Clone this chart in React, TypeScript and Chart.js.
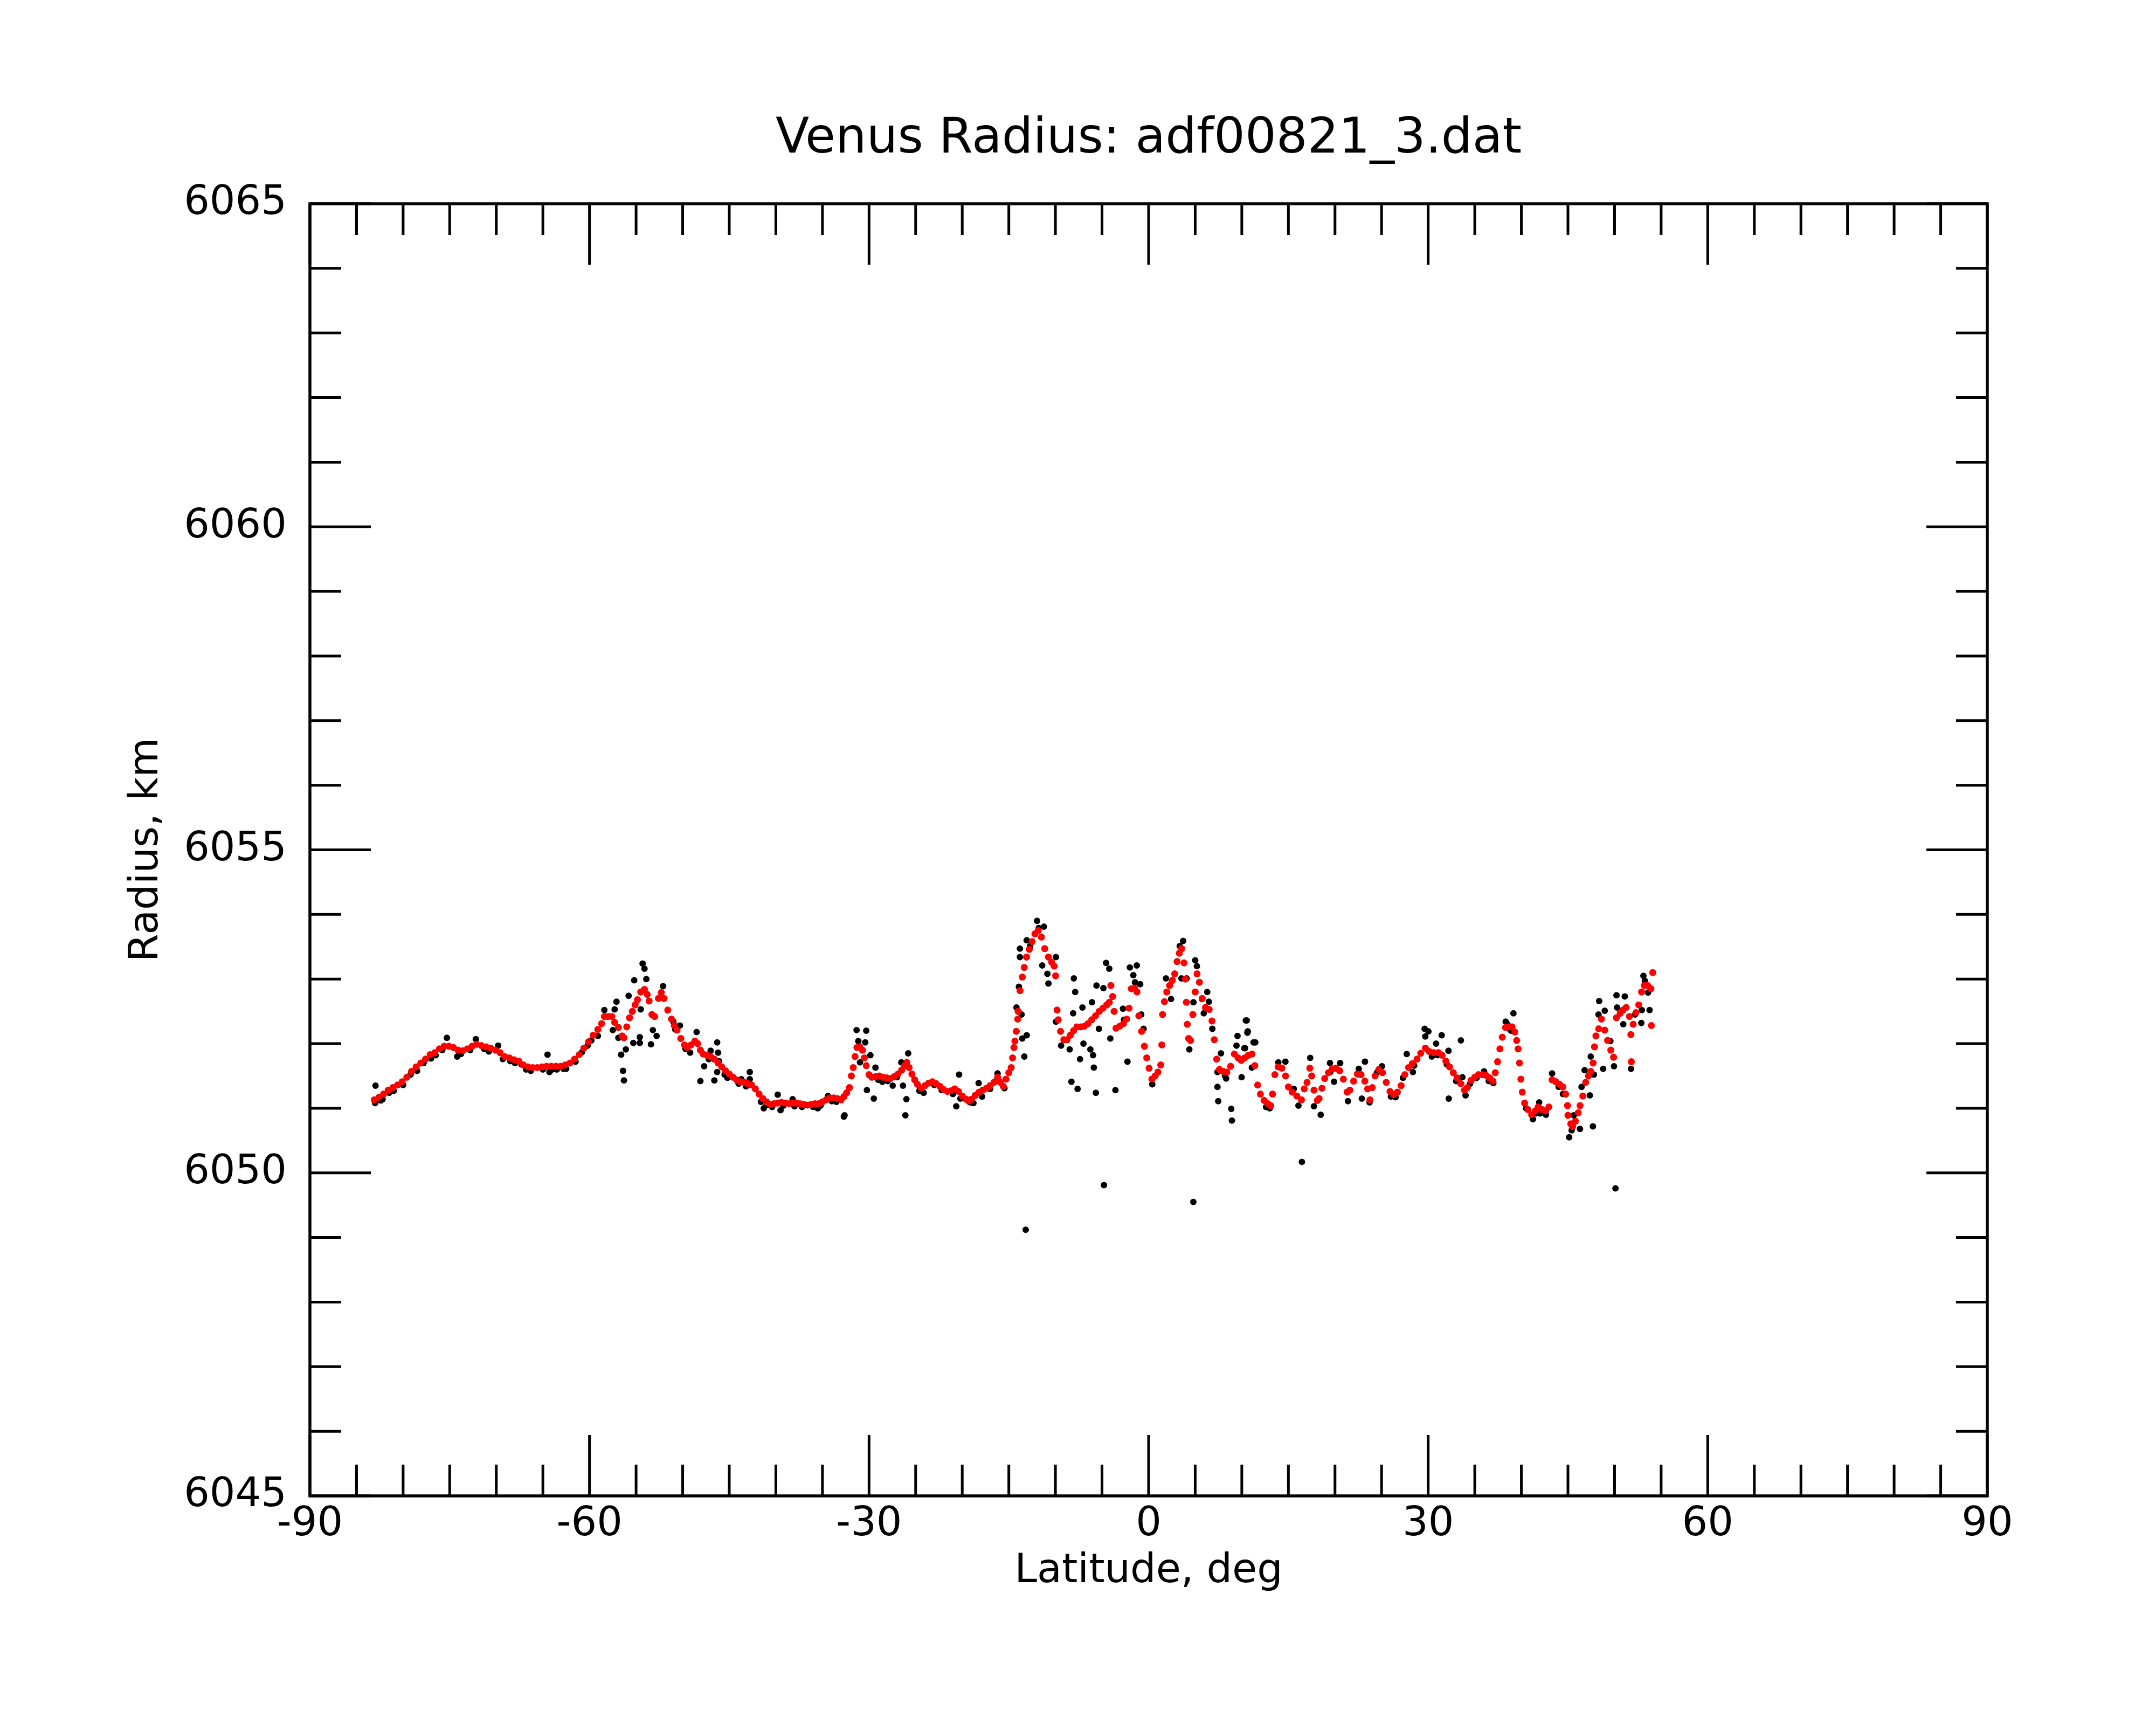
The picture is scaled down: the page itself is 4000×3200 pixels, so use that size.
import { useEffect, useRef } from "react";
import { Chart, registerables } from "chart.js";

Chart.register(...registerables);

const FONT = '"DejaVu Sans", sans-serif';

const title = "Venus Radius: adf00821_3.dat";
const xTitle = "Latitude, deg";
const yTitle = "Radius, km";

const xTicks = [-90, -60, -30, 0, 30, 60, 90];
const yTicks = [6045, 6050, 6055, 6060, 6065];

// smoothed profile (red)
const redLat = [
  -83.1, -82.6, -82.1, -81.6, -81.1, -80.6, -80.1, -79.6, -79.1, -78.6, -78.1, -77.6, -77.1, -76.6, -76.1,
  -75.6, -75.1, -74.6, -74.1, -73.6, -73.1, -72.6, -72.1, -71.6, -71.1, -70.6, -70.1, -69.6, -69.1, -68.6,
  -68.1, -67.6, -67.1, -66.6, -66.1, -65.6, -65.1, -64.6, -64.1, -63.6, -63.1, -62.6, -62.1, -61.6, -61.1,
  -60.6, -60.1, -59.6, -59.1, -58.7, -58.4, -58.0, -57.6, -57.3, -56.9, -56.5, -56.3, -56.0, -55.7, -55.4,
  -55.1, -54.85, -54.5, -54.1, -53.8, -53.6, -53.3, -53.0, -52.6, -52.3, -52.0, -51.6, -51.2, -50.9, -50.6,
  -50.2, -49.8, -49.5, -49.1, -48.7, -48.4, -48.1, -47.8, -47.4, -47.0, -46.6, -46.2, -45.8, -45.4, -45.0,
  -44.6, -44.2, -43.8, -43.4, -43.0, -42.6, -42.2, -41.8, -41.4, -41.0, -40.6, -40.2, -39.8, -39.4, -39.0,
  -38.6, -38.2, -37.8, -37.4, -37.0, -36.6, -36.2, -35.8, -35.4, -35.0, -34.6, -34.2, -33.8, -33.4, -33.0,
  -32.7, -32.4, -32.1, -31.9, -31.7, -31.5, -31.3, -31.0, -30.7, -30.5, -30.3, -30.0, -29.7, -29.3, -28.9,
  -28.5, -28.1, -27.7, -27.3, -26.9, -26.5, -26.2, -25.95, -25.7, -25.4, -25.1, -24.8, -24.4, -24.0, -23.6,
  -23.2, -22.8, -22.4, -22.0, -21.6, -21.2, -20.8, -20.4, -20.0, -19.6, -19.3, -19.0, -18.6, -18.2, -17.8,
  -17.4, -17.0, -16.6, -16.2, -15.9, -15.6, -15.3, -15.0, -14.75, -14.6, -14.45, -14.35, -14.2, -14.05, -14.0,
  -13.8, -13.55, -13.35, -13.1, -12.8, -12.5, -12.2, -11.85, -11.5, -11.15, -10.75, -10.4, -10.13, -9.98, -9.82,
  -9.7, -9.45, -9.1, -8.75, -8.4, -8.05, -7.7, -7.3, -6.9, -6.5, -6.1, -5.7, -5.3, -4.9, -4.5,
  -4.22, -4.05, -3.86, -3.7, -3.5, -3.1, -2.7, -2.35, -2.1, -1.85, -1.5, -1.25, -1.05, -0.75, -0.45,
  -0.2, 0.05, 0.35, 0.7, 1.0, 1.3, 1.42, 1.5, 1.7, 1.95, 2.25, 2.55, 2.8, 3.05, 3.3,
  3.55, 3.8, 3.95, 4.05, 4.15, 4.3, 4.5, 4.75, 5.0, 5.2, 5.45, 5.75, 6.1, 6.5, 6.8,
  7.05, 7.3, 7.6, 8.0, 8.4, 8.8, 9.2, 9.6, 9.95, 10.3, 10.7, 11.1, 11.4, 11.7, 12.0,
  12.4, 12.8, 13.1, 13.3, 13.55, 13.9, 14.3, 14.7, 15.0, 15.4, 15.9, 16.4, 16.7, 17.0, 17.3,
  17.5, 17.75, 18.1, 18.3, 18.6, 18.9, 19.3, 19.7, 20.1, 20.5, 20.9, 21.3, 21.6, 22.0, 22.4,
  22.8, 23.2, 23.5, 23.75, 24.0, 24.3, 24.7, 25.1, 25.5, 25.9, 26.3, 26.7, 27.1, 27.5, 27.9,
  28.3, 28.8, 29.2, 29.7, 30.1, 30.6, 31.1, 31.5, 31.9, 32.3, 32.7, 33.1, 33.5, 33.9, 34.2,
  34.6, 35.0, 35.4, 35.8, 36.2, 36.6, 36.95, 37.2, 37.45, 37.7, 37.95, 38.3, 38.7, 39.0, 39.3,
  39.5, 39.65, 39.8, 39.95, 40.1, 40.35, 40.7, 41.1, 41.5, 41.8, 42.2, 42.6, 42.95, 43.3, 43.7,
  44.1, 44.45, 44.75, 44.95, 45.0, 45.3, 45.5, 45.8, 46.1, 46.3, 46.6, 46.9, 47.2, 47.45, 47.7,
  47.85, 48.0, 48.3, 48.6, 48.95, 49.25, 49.6, 49.9, 50.2, 50.6, 50.9, 51.25, 51.6, 51.75, 51.8,
  52.0, 52.3, 52.6, 52.9, 53.2, 53.55, 53.9, 54.1, 53.95,
];
const redRadius = [
  6051.13, 6051.17, 6051.22, 6051.28, 6051.32, 6051.36, 6051.41, 6051.48, 6051.57, 6051.64, 6051.7, 6051.76, 6051.83, 6051.86, 6051.92,
  6051.96, 6051.96, 6051.94, 6051.9, 6051.89, 6051.92, 6051.96, 6051.99, 6051.97, 6051.95, 6051.93, 6051.9, 6051.86, 6051.8, 6051.78,
  6051.75, 6051.73, 6051.67, 6051.64, 6051.63, 6051.63, 6051.64, 6051.65, 6051.65, 6051.65, 6051.65, 6051.67, 6051.7, 6051.76, 6051.83,
  6051.93, 6052.03, 6052.13, 6052.22, 6052.31, 6052.42, 6052.42, 6052.42, 6052.33, 6052.25, 6052.12, 6052.09, 6052.26, 6052.4, 6052.5,
  6052.6, 6052.68, 6052.8, 6052.84, 6052.76, 6052.66, 6052.45, 6052.42, 6052.7, 6052.79, 6052.7, 6052.52, 6052.38, 6052.28, 6052.21,
  6052.08, 6051.98, 6051.94, 6051.98, 6052.04, 6052.0, 6051.9, 6051.84, 6051.82, 6051.8, 6051.76, 6051.7, 6051.64, 6051.58, 6051.53,
  6051.48, 6051.44, 6051.41, 6051.4, 6051.38, 6051.36, 6051.3, 6051.22, 6051.15, 6051.1, 6051.06, 6051.07, 6051.08, 6051.09, 6051.08,
  6051.07, 6051.08, 6051.08, 6051.07, 6051.06, 6051.05, 6051.06, 6051.07, 6051.07, 6051.1, 6051.13, 6051.16, 6051.16, 6051.15, 6051.13,
  6051.18, 6051.24, 6051.32, 6051.5, 6051.63, 6051.8, 6051.94, 6051.95, 6051.9, 6051.78, 6051.66, 6051.52, 6051.48, 6051.49, 6051.5,
  6051.48, 6051.47, 6051.46, 6051.49, 6051.53, 6051.59, 6051.66, 6051.71, 6051.63, 6051.53, 6051.44, 6051.37, 6051.31, 6051.35, 6051.39,
  6051.41, 6051.38, 6051.34, 6051.29, 6051.26, 6051.27, 6051.3, 6051.26, 6051.19, 6051.14, 6051.11, 6051.14, 6051.2, 6051.25, 6051.28,
  6051.31, 6051.35, 6051.4, 6051.48, 6051.4, 6051.34, 6051.45, 6051.55, 6051.63, 6051.78, 6051.94, 6052.04, 6052.19, 6052.38, 6052.5,
  6052.82, 6053.03, 6053.18, 6053.34, 6053.46, 6053.58, 6053.7, 6053.75, 6053.65, 6053.47, 6053.34, 6053.26, 6053.2, 6053.05, 6052.52,
  6052.37, 6052.19, 6052.06, 6052.06, 6052.13, 6052.2, 6052.26, 6052.26, 6052.27, 6052.31, 6052.37, 6052.43, 6052.5, 6052.55, 6052.6,
  6052.64, 6052.9, 6052.73, 6052.5, 6052.24, 6052.27, 6052.31, 6052.38, 6052.55, 6052.85, 6052.86, 6052.8, 6052.43, 6052.19, 6051.96,
  6051.78, 6051.62, 6051.45, 6051.5, 6051.56, 6051.67, 6051.98, 6052.45, 6052.65, 6052.8, 6052.9, 6052.98, 6053.08, 6053.27, 6053.4,
  6053.47, 6053.25, 6053.0, 6052.64, 6052.3, 6052.08, 6052.05, 6052.45, 6052.8, 6053.08, 6052.95, 6052.7, 6052.56, 6052.53, 6052.35,
  6052.06, 6051.76, 6051.6, 6051.57, 6051.56, 6051.65, 6051.84, 6051.78, 6051.74, 6051.78, 6051.82, 6051.84, 6051.66, 6051.36, 6051.22,
  6051.12, 6051.07, 6051.04, 6051.22, 6051.52, 6051.64, 6051.62, 6051.5, 6051.33, 6051.25, 6051.19, 6051.13, 6051.3, 6051.4, 6051.62,
  6051.5, 6051.28, 6051.12, 6051.15, 6051.31, 6051.46, 6051.55, 6051.61, 6051.62, 6051.58, 6051.45, 6051.25, 6051.28, 6051.42, 6051.53,
  6051.52, 6051.42, 6051.3, 6051.13, 6051.32, 6051.5, 6051.6, 6051.55, 6051.4, 6051.26, 6051.21, 6051.25, 6051.35, 6051.52, 6051.63,
  6051.69, 6051.76, 6051.85, 6051.93, 6051.88, 6051.86, 6051.86, 6051.82, 6051.73, 6051.64, 6051.55, 6051.47, 6051.38, 6051.28, 6051.32,
  6051.43, 6051.48, 6051.52, 6051.52, 6051.51, 6051.47, 6051.42, 6051.55, 6051.72, 6051.92, 6052.1, 6052.25, 6052.26, 6052.26, 6052.18,
  6052.05, 6051.92, 6051.7, 6051.45, 6051.25, 6051.08, 6050.98, 6050.9, 6050.96, 6051.02, 6050.98, 6050.96, 6051.02, 6051.44, 6051.41,
  6051.37, 6051.33, 6051.22, 6051.04, 6050.89, 6050.76, 6050.72, 6050.8, 6050.93, 6051.04, 6051.19, 6051.4, 6051.5, 6051.57, 6051.7,
  6051.95, 6052.12, 6052.23, 6052.38, 6052.21, 6052.05, 6051.9, 6051.79, 6052.4, 6052.47, 6052.52, 6052.56, 6052.42, 6052.14, 6051.72,
  6052.3, 6052.48, 6052.6, 6052.8, 6052.9, 6052.9, 6052.85, 6053.1, 6052.28,
];

// raw measurements (black)
const blackLat = [
  -82.96, -82.2, -81.5, -79.2, -77.8, -76.5, -75.3, -74.2, -74.0, -72.2, -71.3, -69.8, -68.5, -68.0, -66.8,
  -65.0, -64.5, -64.3, -63.5, -62.5, -61.5, -60.2, -59.1, -58.4, -57.1, -57.3, -57.5, -56.9, -56.6, -56.4,
  -56.3, -56.1, -55.8, -55.2, -55.3, -54.6, -54.6, -54.3, -54.1, -53.9, -54.5, -53.4, -53.2, -52.8, -52.1,
  -51.0, -50.3, -49.2, -48.5, -48.1, -47.7, -47.0, -46.3, -46.2, -46.6, -46.1, -46.3, -45.5, -44.0, -43.7,
  -42.8, -42.8, -41.3, -41.0, -39.8, -39.5, -38.2, -38.0, -36.0, -35.5, -34.4, -33.5, -32.7, -32.63, -31.34,
  -31.15, -30.3, -30.41, -29.86, -30.97, -30.23, -29.49, -29.31, -28.57, -28.0, -27.46, -26.54, -25.8, -26.36, -25.99,
  -26.1, -24.14, -23.0, -21.0, -20.64, -20.34, -19.16, -18.24, -17.87, -17.0, -16.21, -15.47, -14.18, -13.92, -13.81,
  -13.81, -13.63, -13.56, -13.34, -13.08, -13.08, -12.71, -11.97, -11.79, -11.23, -11.42, -10.86, -10.75, -9.94, -9.94,
  -9.39, -8.47, -8.1, -8.02, -7.88, -8.28, -7.62, -7.36, -7.1, -6.99, -6.25, -6.07, -5.96, -5.88, -5.66,
  -5.59, -5.33, -4.85, -4.56, -4.22, -4.11, -3.56, -2.75, -2.64, -2.27, -2.01, -1.27, -1.64, -1.46, -0.9,
  -0.79, -0.54, 0.39, 1.86, 2.41, 3.34, 3.71, 3.52, 4.08, 4.37, 5.0, 5.18, 4.81, 5.73, 6.29,
  5.92, 6.47, 6.84, 7.39, 7.39, 7.47, 7.76, 8.32, 8.87, 8.94, 9.54, 9.43, 10.35, 10.53, 10.64,
  9.98, 11.45, 11.08, 10.43, 10.6, 10.27, 11.26, 13.0, 13.92, 14.68, 15.58, 16.08, 17.34, 18.47, 17.74,
  19.46, 20.56, 19.9, 21.39, 22.55, 23.22, 22.88, 23.71, 25.04, 26.2, 26.5, 27.7, 28.36, 28.5, 29.62,
  30.02, 29.69, 30.85, 31.0, 31.45, 32.18, 33.51, 32.21, 33.0, 33.67, 34.01, 35.2, 36.0, 36.99, 38.32,
  38.5, 39.15, 38.82, 41.24, 41.5, 41.91, 42.64, 43.3, 44.0, 44.46, 45.13, 45.63, 46.29, 46.46, 46.79,
  47.35, 47.68, 47.78, 47.45, 48.35, 48.28, 48.95, 48.78, 49.55, 49.94, 50.21, 50.27, 51.1, 50.94, 51.77,
  52.2, 52.93, 52.87, 53.1, 53.26, 53.76, 53.59, -13.19, -4.79, 4.8, 16.45, 50.1,
  -83.0, -82.4, -81.0, -80.0, -78.5, -77.0, -75.8, -73.8, -72.8, -70.8, -69.3, -67.3, -66.3, -64.0, -62.8,
  -60.8, -59.8, -50.8, -49.7, -47.2, -45.2, -43.2, -41.6, -40.4, -39.2, -37.2, -35.2, -34.0, -29.0, -27.0,
  -24.6, -22.2, -20.2, -18.8, -16.4, 8.2, 12.6, 19.5, 24.5, 26.0, 27.3, 30.4, 32.0, 34.5, 36.5,
  38.9, 40.5, 42.0, 45.4,
];
const blackRadius = [
  6051.35, 6051.14, 6051.24, 6051.52, 6051.7, 6051.82, 6052.09, 6051.8, 6051.84, 6052.07, 6051.92, 6051.97, 6051.73, 6051.7, 6051.6,
  6051.6, 6051.83, 6051.56, 6051.6, 6051.61, 6051.72, 6051.97, 6052.12, 6052.52, 6052.65, 6052.53, 6052.21, 6052.09, 6051.83, 6051.58,
  6051.43, 6051.91, 6052.74, 6052.98, 6052.01, 6052.01, 6052.1, 6053.24, 6053.16, 6053.0, 6052.53, 6051.99, 6052.21, 6052.12, 6052.89,
  6052.34, 6052.28, 6051.86, 6052.18, 6051.42, 6051.65, 6051.89, 6052.02, 6051.86, 6051.43, 6051.73, 6051.56, 6051.52, 6051.38, 6051.45,
  6051.56, 6051.45, 6051.0, 6051.05, 6051.21, 6050.97, 6051.14, 6051.03, 6051.02, 6051.0, 6051.19, 6051.1, 6050.87, 6050.89, 6052.21,
  6052.04, 6052.2, 6052.02, 6051.82, 6051.71, 6051.28, 6051.15, 6051.63, 6051.41, 6051.42, 6051.35, 6051.71, 6051.85, 6051.35, 6051.14,
  6050.89, 6051.24, 6051.36, 6051.22, 6051.03, 6051.52, 6051.09, 6051.39, 6051.18, 6051.3, 6051.54, 6051.31, 6052.56, 6052.88, 6053.34,
  6053.47, 6052.45, 6052.08, 6051.8, 6052.13, 6053.6, 6053.51, 6053.9, 6053.79, 6053.81, 6053.21, 6053.08, 6052.93, 6053.34, 6052.34,
  6051.97, 6051.91, 6052.47, 6053.01, 6052.8, 6051.41, 6051.3, 6051.76, 6052.56, 6052.0, 6051.91, 6052.64, 6051.82, 6051.63, 6051.24,
  6052.9, 6052.23, 6052.86, 6053.25, 6053.16, 6052.08, 6051.28, 6052.54, 6052.37, 6051.72, 6053.18, 6053.21, 6053.06, 6052.95, 6052.92,
  6052.45, 6052.23, 6051.37, 6053.01, 6052.69, 6053.51, 6053.59, 6053.01, 6053.01, 6051.91, 6053.29, 6053.2, 6052.64, 6052.69, 6052.8,
  6052.47, 6052.65, 6052.23, 6051.56, 6051.33, 6051.11, 6051.85, 6051.46, 6050.99, 6050.81, 6052.12, 6051.97, 6051.93, 6052.36, 6052.19,
  6051.48, 6052.02, 6051.63, 6052.36, 6052.17, 6051.93, 6052.02, 6051.0, 6051.71, 6051.72, 6051.3, 6051.04, 6051.78, 6050.9, 6051.03,
  6051.7, 6051.7, 6051.41, 6051.11, 6051.61, 6051.72, 6051.15, 6051.09, 6051.65, 6051.2, 6051.17, 6051.84, 6051.56, 6051.66, 6052.23,
  6052.19, 6052.11, 6052.0, 6051.82, 6052.13, 6051.89, 6052.05, 6051.15, 6051.42, 6051.48, 6051.2, 6051.47, 6051.57, 6051.39, 6052.34,
  6052.3, 6052.47, 6052.21, 6050.83, 6050.92, 6051.09, 6050.9, 6051.54, 6051.33, 6051.22, 6050.55, 6050.89, 6050.68, 6051.33, 6051.59,
  6051.2, 6050.72, 6051.52, 6051.8, 6052.66, 6052.45, 6052.51, 6051.61, 6052.04, 6051.65, 6052.75, 6052.56, 6052.73, 6052.3, 6051.61,
  6052.45, 6052.52, 6052.32, 6053.05, 6052.97, 6052.52, 6052.79, 6049.12, 6049.81, 6049.55, 6050.17, 6049.76,
  6051.08, 6051.12, 6051.27, 6051.36, 6051.58, 6051.77, 6051.9, 6051.84, 6051.9, 6051.88, 6051.76, 6051.68, 6051.58, 6051.6, 6051.61,
  6051.87, 6052.05, 6052.22, 6051.92, 6051.76, 6051.47, 6051.34, 6051.1, 6051.02, 6051.04, 6051.02, 6051.04, 6051.11, 6051.44, 6051.48,
  6051.27, 6051.28, 6051.15, 6051.08, 6051.42, 6051.5, 6051.02, 6051.56, 6051.55, 6051.18, 6051.47, 6051.8, 6051.68, 6051.38, 6051.42,
  6052.2, 6051.0, 6050.92, 6050.66,
];

const toPoints = (xs: number[], ys: number[]) => xs.map((x, i) => ({ x, y: ys[i] }));

const frame = {
  id: "frame",
  beforeDraw(chart: any) {
    const c = chart.ctx;
    c.save();
    c.fillStyle = "#ffffff";
    c.fillRect(0, 0, chart.width, chart.height);
    c.restore();
  },
  afterDraw(chart: any) {
    const c = chart.ctx;
    const { left, right, top, bottom } = chart.chartArea;
    const xs = chart.scales.x;
    const ys = chart.scales.y;
    c.save();
    c.strokeStyle = "#000000";
    c.lineWidth = 5;
    c.lineCap = "butt";
    c.beginPath();
    for (let v = -90; v <= 90; v += 5) {
      const px = xs.getPixelForValue(v);
      const len = v % 30 === 0 ? 113 : 58;
      c.moveTo(px, bottom);
      c.lineTo(px, bottom - len);
      c.moveTo(px, top);
      c.lineTo(px, top + len);
    }
    for (let v = 6045; v <= 6065; v += 1) {
      const py = ys.getPixelForValue(v);
      const len = v % 5 === 0 ? 113 : 58;
      c.moveTo(left, py);
      c.lineTo(left + len, py);
      c.moveTo(right, py);
      c.lineTo(right - len, py);
    }
    c.stroke();
    c.lineWidth = 5.5;
    c.strokeRect(left, top, right - left, bottom - top);

    c.fillStyle = "#000000";
    c.textAlign = "center";
    c.textBaseline = "alphabetic";
    const cx = (left + right) / 2;
    c.font = `91px ${FONT}`;
    c.fillText(title, cx, 283);
    c.font = `75px ${FONT}`;
    c.fillText(xTitle, cx, 2935);
    c.translate(292, (top + bottom) / 2);
    c.rotate(-Math.PI / 2);
    c.fillText(yTitle, 0, 0);
    c.restore();
  },
};

export default function App() {
  const canvasRef = useRef<HTMLCanvasElement | null>(null);
  const chartRef = useRef<Chart | null>(null);

  useEffect(() => {
    if (!canvasRef.current) {
      return;
    }
    if (chartRef.current) {
      chartRef.current.destroy();
    }

    chartRef.current = new Chart(canvasRef.current, {
      type: "scatter",
      data: {
        datasets: [
          {
            label: "smoothed",
            data: toPoints(redLat, redRadius),
            backgroundColor: "#ff0000",
            pointRadius: 6.5,
            pointBorderWidth: 0,
            order: 0,
          },
          {
            label: "raw",
            data: toPoints(blackLat, blackRadius),
            backgroundColor: "#000000",
            pointRadius: 6,
            pointBorderWidth: 0,
            order: 1,
          },
        ],
      },
      options: {
        animation: false,
        responsive: false,
        devicePixelRatio: 1,
        layout: { padding: { top: 378, right: 313, left: 0, bottom: 0 } },
        plugins: {
          legend: { display: false },
          tooltip: { enabled: false },
          title: { display: false },
        },
        scales: {
          x: {
            type: "linear",
            position: "bottom",
            min: -90,
            max: 90,
            grid: { display: false, drawTicks: false },
            border: { display: false },
            afterBuildTicks: (scale: any) => {
              scale.ticks = xTicks.map((value) => ({ value }));
            },
            afterFit: (scale: any) => {
              scale.height = 425;
            },
            ticks: {
              color: "#000000",
              padding: 9,
              maxRotation: 0,
              autoSkip: false,
              font: { family: FONT, size: 75 },
              callback: (v: any) => String(v),
            },
          },
          y: {
            type: "linear",
            position: "left",
            min: 6045,
            max: 6065,
            grid: { display: false, drawTicks: false },
            border: { display: false },
            afterBuildTicks: (scale: any) => {
              scale.ticks = yTicks.map((value) => ({ value }));
            },
            afterFit: (scale: any) => {
              scale.width = 575;
            },
            ticks: {
              color: "#000000",
              padding: 43,
              autoSkip: false,
              font: { family: FONT, size: 75 },
              callback: (v: any) => String(v),
            },
          },
        },
      },
      plugins: [frame],
    });

    return () => {
      chartRef.current?.destroy();
      chartRef.current = null;
    };
  }, []);

  return (
    <div style={{ position: "fixed", left: 0, top: 0, width: 4000, height: 3200, background: "#fff" }}>
      <canvas ref={canvasRef} width={4000} height={3200} />
    </div>
  );
}
